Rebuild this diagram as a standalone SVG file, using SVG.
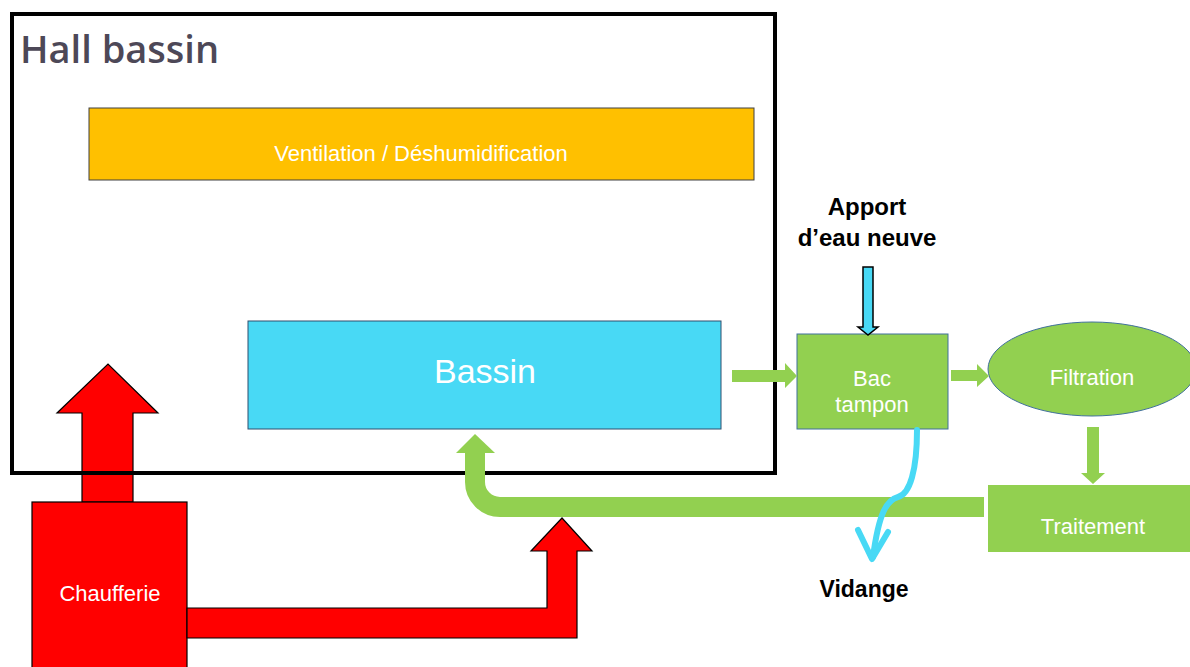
<svg xmlns="http://www.w3.org/2000/svg" width="1190" height="667" viewBox="0 0 1190 667">
  <style>
    .lbl { font-family: "Liberation Sans", Arial, sans-serif; fill: #ffffff; text-anchor: middle; }
    .bold { font-family: "Liberation Sans", Arial, sans-serif; font-weight: bold; fill: #000000; text-anchor: middle; }
    .green { fill: #92D050; }
    .heat { fill: #FF0000; stroke: #000000; stroke-width: 1.2; stroke-linejoin: miter; }
    .water { fill: #48D9F5; }
  </style>
  <rect width="1190" height="667" fill="#ffffff"/>

  <!-- heating -->
  <g id="chaufferie">
    <path class="heat" d="M 82 502 V 413 H 57 L 108 364 L 158 413 H 133 V 502 Z"/>
    <rect class="heat" x="32" y="502" width="155" height="170"/>
    <text class="lbl" x="110" y="601" font-size="22">Chaufferie</text>
  </g>

  <!-- hall enclosure -->
  <g id="hall">
    <rect x="12" y="14" width="763" height="459" fill="none" stroke="#000000" stroke-width="4"/>
    <text x="20" y="63" font-family="Open Sans, Liberation Sans, Arial, sans-serif" font-weight="600" font-size="38" fill="#4D4857">Hall bassin</text>
  </g>

  <g id="ventilation">
    <rect x="89" y="108" width="665" height="72" fill="#FFC000" stroke="#404040" stroke-width="1"/>
    <text class="lbl" x="421" y="161" font-size="22">Ventilation / Déshumidification</text>
  </g>

  <g id="bassin">
    <rect class="water" x="248" y="321" width="473" height="108" stroke="#2F4F6F" stroke-width="1"/>
    <text class="lbl" x="485" y="383" font-size="34">Bassin</text>
  </g>

  <g id="bac-tampon">
    <rect class="green" x="797" y="334" width="151" height="95" stroke="#41719C" stroke-width="1"/>
    <text class="lbl" x="872" y="386" font-size="22">Bac</text>
    <text class="lbl" x="872" y="412" font-size="22">tampon</text>
  </g>

  <g id="filtration">
    <ellipse class="green" cx="1092" cy="369" rx="104" ry="47" stroke="#41719C" stroke-width="1"/>
    <text class="lbl" x="1092" y="385" font-size="22">Filtration</text>
  </g>

  <g id="traitement">
    <rect class="green" x="988" y="485" width="210" height="67"/>
    <text class="lbl" x="1093" y="534" font-size="22">Traitement</text>
  </g>

  <g id="apport">
    <text class="bold" x="867" y="215" font-size="24">Apport</text>
    <text class="bold" x="867" y="246" font-size="24">d’eau neuve</text>
  </g>

  <g id="vidange">
    <text class="bold" x="864" y="597" font-size="23">Vidange</text>
  </g>

  <g id="connectors">
    <!-- boiler to pool -->
    <path class="heat" d="M 187 608 H 547 V 551 H 531 L 562 518 L 592 551 H 577 V 638 H 187 Z"/>
    <!-- treated water back to the pool -->
    <path d="M 984 507 H 500 A 25 25 0 0 1 475 482 V 452" fill="none" stroke="#92D050" stroke-width="20"/>
    <polygon class="green" points="456,453 475,434 495,453"/>
    <!-- pool to buffer tank -->
    <polygon class="green" points="732,370 785,370 785,363 797,376 785,388 785,382 732,382"/>
    <!-- buffer tank to filter -->
    <polygon class="green" points="951,370 977,370 977,364 989,376 977,387 977,381 951,381"/>
    <!-- filter to treatment -->
    <polygon class="green" points="1087,427 1099,427 1099,473 1105,473 1093,484 1081,473 1087,473"/>
    <!-- fresh water supply -->
    <polygon class="water" points="863,267 873,267 873,327 878,327 868,335 858,327 863,327" stroke="#000000" stroke-width="1.5"/>
    <!-- drain -->
    <path d="M 917 430 C 917 470 910 494 898 497 C 887 500 879 512 873 557" fill="none" stroke="#48D9F5" stroke-width="6" stroke-linecap="round"/>
    <polyline points="858,530 872,559 888,532" fill="none" stroke="#48D9F5" stroke-width="6" stroke-linecap="round" stroke-linejoin="round"/>
  </g>
</svg>
